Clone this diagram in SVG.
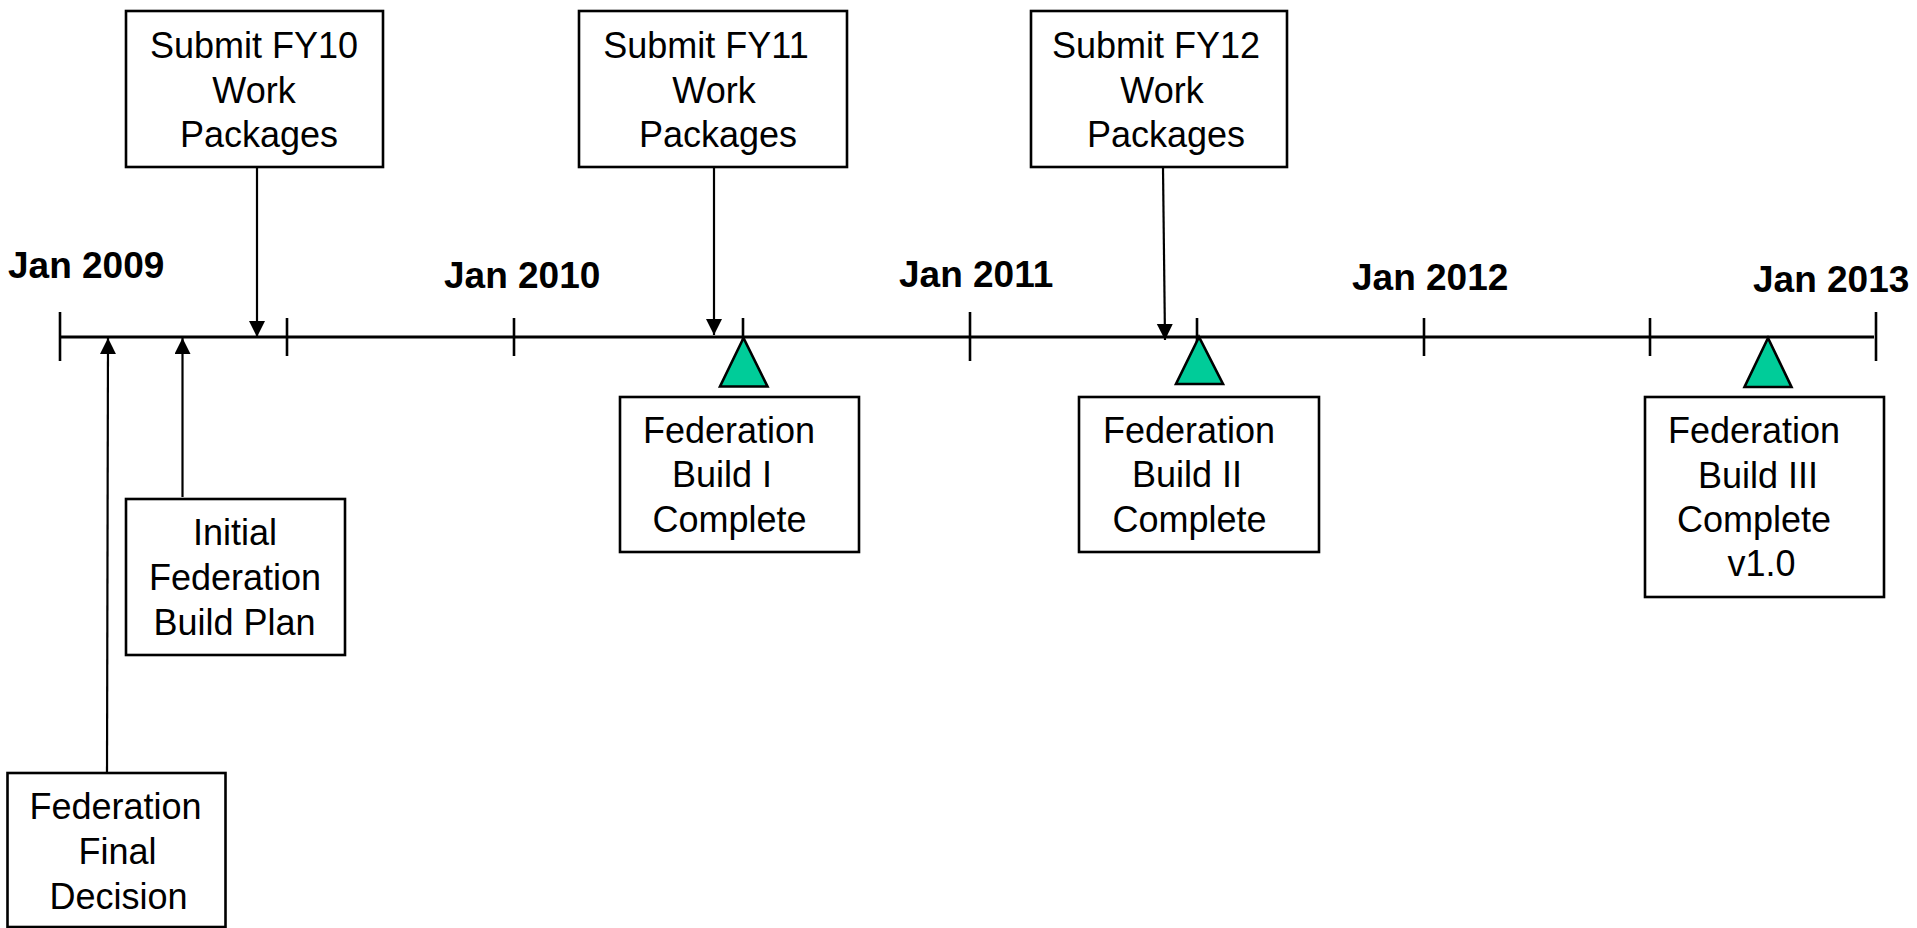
<svg xmlns="http://www.w3.org/2000/svg" width="1917" height="928" viewBox="0 0 1917 928">
<style>
.box{fill:#fff;stroke:#000;stroke-width:2.6}
.t{font-family:"Liberation Sans",Arial,sans-serif;font-size:36px;fill:#000;text-anchor:middle}
.d{font-family:"Liberation Sans",Arial,sans-serif;font-size:37px;font-weight:bold;fill:#000}
.axis{stroke:#000;stroke-width:3;fill:none}
.tick{stroke:#000;stroke-width:2.6}
.conn{stroke:#000;stroke-width:2.2;fill:none;marker-end:url(#ah)}
.tri{fill:#00CC99;stroke:#000;stroke-width:2.6;stroke-linejoin:miter}
</style>
<defs>
<marker id="ah" markerUnits="userSpaceOnUse" markerWidth="18" markerHeight="18" refX="16" refY="8" orient="auto" viewBox="0 0 18 18">
<path d="M0,0 L16,8 L0,16 z" fill="#000"/>
</marker>
</defs>
<rect width="1917" height="928" fill="#fff"/>
<g id="timeline">
<line class="axis" x1="60" y1="337" x2="1874" y2="337"/>
<line class="tick" x1="60" y1="312" x2="60" y2="361"/>
<line class="tick" x1="287" y1="318" x2="287" y2="356"/>
<line class="tick" x1="514" y1="318" x2="514" y2="356"/>
<line class="tick" x1="743" y1="318" x2="743" y2="356"/>
<line class="tick" x1="970" y1="312" x2="970" y2="361"/>
<line class="tick" x1="1197" y1="318" x2="1197" y2="356"/>
<line class="tick" x1="1424" y1="318" x2="1424" y2="356"/>
<line class="tick" x1="1650" y1="318" x2="1650" y2="356"/>
<line class="tick" x1="1876" y1="312" x2="1876" y2="361"/>
<text class="d" x="8" y="278">Jan 2009</text>
<text class="d" x="444" y="288">Jan 2010</text>
<text class="d" x="899" y="287">Jan 2011</text>
<text class="d" x="1352" y="290">Jan 2012</text>
<text class="d" x="1753" y="292">Jan 2013</text>
</g>
<g id="connectors">
<line class="conn" x1="257" y1="168" x2="257" y2="337"/>
<line class="conn" x1="714" y1="168" x2="714" y2="335"/>
<line class="conn" x1="1163" y1="168" x2="1165" y2="340"/>
<line class="conn" x1="107" y1="772" x2="108" y2="338"/>
<line class="conn" x1="182.5" y1="497" x2="182.5" y2="338"/>
</g>
<g id="milestones">
<polygon class="tri" points="743.5,338 720,386.5 767.5,386.5"/>
<polygon class="tri" points="1199,337 1176,384 1223,384"/>
<polygon class="tri" points="1768,338 1744.5,387 1791.5,387"/>
</g>
<g id="fy10">
<rect class="box" x="126" y="11" width="257" height="156"/>
<text class="t" x="254" y="58">Submit FY10</text>
<text class="t" x="254" y="102.5">Work</text>
<text class="t" x="259" y="147">Packages</text>
</g>
<g id="fy11">
<rect class="box" x="579" y="11" width="268" height="156"/>
<text class="t" x="706" y="58">Submit FY11</text>
<text class="t" x="714" y="102.5">Work</text>
<text class="t" x="718" y="147">Packages</text>
</g>
<g id="fy12">
<rect class="box" x="1031" y="11" width="256" height="156"/>
<text class="t" x="1156" y="58">Submit FY12</text>
<text class="t" x="1162" y="102.5">Work</text>
<text class="t" x="1166" y="147">Packages</text>
</g>
<g id="initial-plan">
<rect class="box" x="126" y="499" width="219" height="156"/>
<text class="t" x="235" y="545">Initial</text>
<text class="t" x="235" y="590">Federation</text>
<text class="t" x="234.5" y="635">Build Plan</text>
</g>
<g id="final-decision">
<rect class="box" x="7.5" y="773" width="218" height="154"/>
<text class="t" x="115.5" y="819">Federation</text>
<text class="t" x="117.5" y="864">Final</text>
<text class="t" x="118.5" y="909">Decision</text>
</g>
<g id="build1">
<rect class="box" x="620" y="397" width="239" height="155"/>
<text class="t" x="729" y="442.5">Federation</text>
<text class="t" x="722" y="487">Build I</text>
<text class="t" x="729.5" y="532">Complete</text>
</g>
<g id="build2">
<rect class="box" x="1079" y="397" width="240" height="155"/>
<text class="t" x="1189" y="442.5">Federation</text>
<text class="t" x="1187" y="487">Build II</text>
<text class="t" x="1189.5" y="532">Complete</text>
</g>
<g id="build3">
<rect class="box" x="1645" y="397" width="239" height="200"/>
<text class="t" x="1754" y="443">Federation</text>
<text class="t" x="1758" y="488">Build III</text>
<text class="t" x="1754" y="532">Complete</text>
<text class="t" x="1761.5" y="576">v1.0</text>
</g>
</svg>
